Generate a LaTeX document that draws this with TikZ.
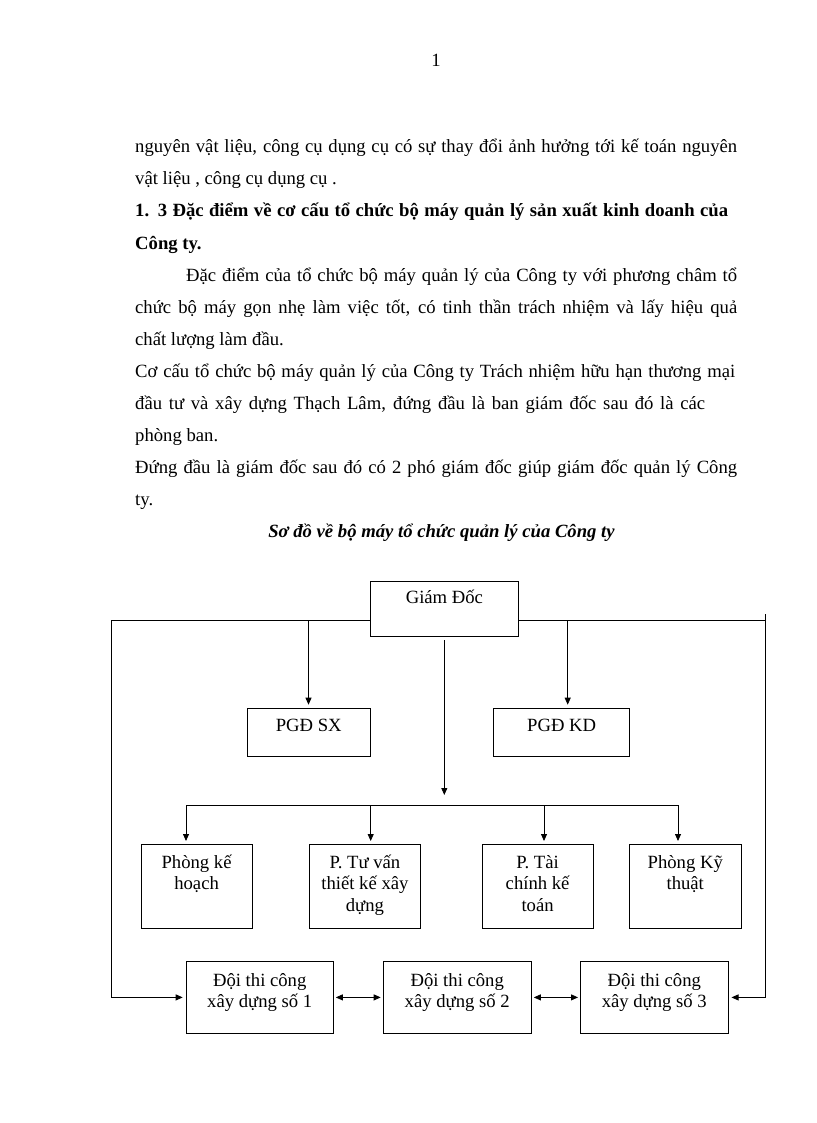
\documentclass[tikz,border=0pt]{standalone}
\usepackage{fontspec}
\setmainfont{Liberation Serif}
\usetikzlibrary{arrows.meta}
\newcommand\boxtext[4]{\parbox[c][#2][t]{#1}{\centering\lineskiplimit=-20pt\rule{0pt}{#3}#4\par}}
\begin{document}
\begin{tikzpicture}[x=1pt,y=-1pt,
  body/.style={anchor=base west,inner sep=0,font=\fontsize{18.67pt}{32pt}\selectfont},
  orgbox/.style={draw,line width=0.8pt,inner sep=0,anchor=north west,font=\fontsize{18.67pt}{21.5pt}\selectfont},
  conn/.style={line width=0.8pt},
  arr/.style={conn,-{Triangle[length=7pt,width=6pt]},shorten >=3pt},
  darr/.style={conn,{Triangle[length=7pt,width=6pt]}-{Triangle[length=7pt,width=6pt]},shorten >=2pt,shorten <=2pt}]
\path[use as bounding box,fill=white] (0,0) rectangle (816,1123);

% page number and text
\node[inner sep=0,anchor=base,font=\fontsize{18.67pt}{32pt}\selectfont] (pg) at (436,67) {1};
\node[body] (t1) at (135,153) {\makebox[602pt][s]{nguyên vật liệu, công cụ dụng cụ có sự thay đổi ảnh hưởng tới kế toán nguyên}};
\node[body] (t2) at (135,185) {vật liệu , công cụ dụng cụ .};
\node[body] (t3) at (135,217) {\textbf{\makebox[593pt][s]{1. 3 Đặc điểm về cơ cấu tổ chức bộ máy quản lý sản xuất kinh doanh của}}};
\node[body] (t4) at (135,249) {\textbf{Công ty.}};
\node[body] (t5) at (186,281) {\makebox[551pt][s]{Đặc điểm của tổ chức bộ máy quản lý của Công ty với phương châm tổ}};
\node[body] (t6) at (135,313) {\makebox[602pt][s]{chức bộ máy gọn nhẹ làm việc tốt, có tinh thần trách nhiệm và lấy hiệu quả}};
\node[body] (t7) at (135,345) {chất lượng làm đầu.};
\node[body] (t8) at (135,377) {\makebox[600pt][s]{Cơ cấu tổ chức bộ máy quản lý của Công ty Trách nhiệm hữu hạn thương mại}};
\node[body] (t9) at (135,409) {\makebox[570pt][s]{đầu tư và xây dựng Thạch Lâm, đứng đầu là ban giám đốc sau đó là các}};
\node[body] (t10) at (135,441) {phòng ban.};
\node[body] (t11) at (135,473) {\makebox[602pt][s]{Đứng đầu là giám đốc sau đó có 2 phó giám đốc giúp giám đốc quản lý Công}};
\node[body] (t12) at (135,505) {ty.};
\node[body,anchor=base] (title) at (441.5,537) {\textbf{\textit{Sơ đồ về bộ máy tổ chức quản lý của Công ty}}};

% boxes
\node[orgbox] (gd) at (370,581) {\boxtext{148pt}{55pt}{22pt}{Giám Đốc}};
\node[orgbox] (sx) at (246.7,707.7) {\boxtext{123.3pt}{48.3pt}{23pt}{PGĐ SX}};
\node[orgbox] (kd) at (493.3,707.7) {\boxtext{136pt}{48.3pt}{23pt}{PGĐ KD}};
\node[orgbox] (p1) at (140.7,844) {\boxtext{111pt}{84pt}{24pt}{Phòng kế\\hoạch}};
\node[orgbox] (p2) at (309,844) {\boxtext{111pt}{84pt}{24pt}{P. Tư vấn\\thiết kế xây\\dựng}};
\node[orgbox] (p3) at (481.7,844) {\boxtext{111pt}{84pt}{24pt}{P. Tài\\chính kế\\toán}};
\node[orgbox] (p4) at (629,844) {\boxtext{111.7pt}{84pt}{24pt}{Phòng Kỹ\\thuật}};
\node[orgbox] (d1) at (185.7,961) {\boxtext{147.3pt}{72pt}{25pt}{Đội thi công\\xây dựng số 1}};
\node[orgbox] (d2) at (382.7,961) {\boxtext{148.3pt}{72pt}{25pt}{Đội thi công\\xây dựng số 2}};
\node[orgbox] (d3) at (580,961) {\boxtext{147.7pt}{72pt}{25pt}{Đội thi công\\xây dựng số 3}};

% junction coordinates
\coordinate (gl) at (370,620);
\coordinate (gr) at (518.3,620);
\coordinate (L) at (111.7,620);
\coordinate (R) at (765,620);
\coordinate (Rt) at (765,614);
\coordinate (sa) at (308.5,620);
\coordinate (ka) at (567.7,620);
\coordinate (c0) at (444.3,640);
\coordinate (c1) at (444.3,795);
\coordinate (h1) at (186,805);
\coordinate (h2) at (370.7,805);
\coordinate (h3) at (544,805);
\coordinate (h4) at (678,805);

% connectors
\draw[arr] (gl) -- (L) |- (d1.west);
\draw[conn] (gr) -- (R);
\draw[arr] (Rt) |- (d3.east);
\draw[arr] (sa) -- (sa |- sx.north);
\draw[arr] (ka) -- (ka |- kd.north);
\draw[conn,-{Triangle[length=7pt,width=6pt]}] (c0) -- (c1);
\draw[conn] (h1) -- (h4);
\draw[arr] (h1) -- (h1 |- p1.north);
\draw[arr] (h2) -- (h2 |- p2.north);
\draw[arr] (h3) -- (h3 |- p3.north);
\draw[arr] (h4) -- (h4 |- p4.north);
\draw[darr] (d1.east) -- (d2.west);
\draw[darr] (d2.east) -- (d3.west);
\end{tikzpicture}
\end{document}
